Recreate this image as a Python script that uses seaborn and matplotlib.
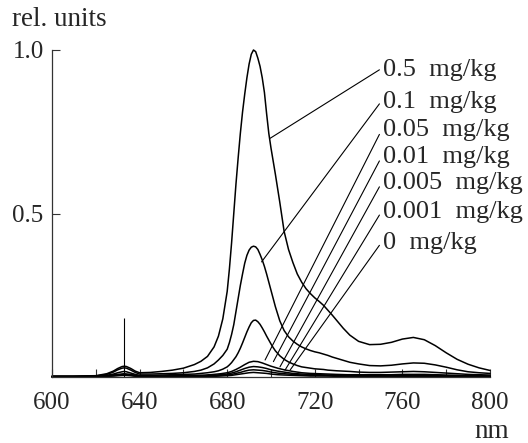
import matplotlib
matplotlib.use("Agg")
import matplotlib.pyplot as plt
import pandas as pd
import seaborn as sns

# wavelength grids (nm): dense one for the three strong spectra, coarse one for the weak ones
nm_main = [600, 610, 620, 625, 628, 630, 632, 633, 634, 636,
           638, 640, 645, 650, 655, 660, 665, 668, 671, 674,
           676, 678, 680, 681, 682, 683, 684, 685, 686, 687,
           688, 689, 690, 691, 692, 693, 694, 695, 696, 697,
           698, 699, 700, 701, 702, 704, 706, 708, 710, 712,
           714, 716, 718, 720, 722, 724, 726, 728, 730, 733,
           736, 740, 745, 750, 755, 760, 765, 770, 775, 780,
           785, 790, 795, 800]

nm_low = [600, 610, 620, 625, 630, 633, 636, 640, 650, 660,
          665, 670, 674, 677, 680, 682, 684, 686, 688, 690,
          692, 694, 696, 698, 700, 703, 706, 710, 714, 718,
          722, 726, 730, 735, 740, 745, 750, 755, 760, 765,
          770, 775, 780, 785, 790, 795, 800]

c_05 = [0.003, 0.003, 0.004, 0.010, 0.018, 0.026, 0.032, 0.033, 0.032, 0.026,
        0.018, 0.013, 0.014, 0.017, 0.021, 0.027, 0.038, 0.048, 0.063, 0.092,
        0.125, 0.178, 0.262, 0.330, 0.410, 0.500, 0.590, 0.670, 0.745, 0.810,
        0.865, 0.915, 0.957, 0.987, 1.000, 0.995, 0.975, 0.950, 0.915, 0.870,
        0.805, 0.745, 0.700, 0.660, 0.620, 0.535, 0.445, 0.390, 0.350, 0.315,
        0.290, 0.270, 0.255, 0.242, 0.231, 0.219, 0.204, 0.189, 0.173, 0.149,
        0.128, 0.109, 0.099, 0.100, 0.106, 0.116, 0.121, 0.114, 0.096, 0.074,
        0.054, 0.039, 0.028, 0.020]

c_01 = [0.002, 0.002, 0.003, 0.008, 0.015, 0.022, 0.027, 0.028, 0.027, 0.021,
        0.014, 0.009, 0.009, 0.010, 0.011, 0.013, 0.017, 0.021, 0.028, 0.040,
        0.052, 0.066, 0.085, 0.105, 0.130, 0.160, 0.200, 0.240, 0.280, 0.315,
        0.348, 0.372, 0.388, 0.397, 0.400, 0.398, 0.390, 0.375, 0.358, 0.338,
        0.315, 0.290, 0.265, 0.240, 0.215, 0.172, 0.142, 0.123, 0.110, 0.100,
        0.092, 0.086, 0.081, 0.077, 0.074, 0.070, 0.066, 0.061, 0.057, 0.051,
        0.045, 0.040, 0.035, 0.034, 0.036, 0.040, 0.043, 0.042, 0.037, 0.030,
        0.022, 0.016, 0.013, 0.011]

c_005 = [0.001, 0.001, 0.002, 0.005, 0.009, 0.013, 0.016, 0.017, 0.016, 0.012,
         0.008, 0.005, 0.005, 0.006, 0.007, 0.008, 0.009, 0.011, 0.013, 0.016,
         0.019, 0.024, 0.031, 0.037, 0.044, 0.053, 0.062, 0.074, 0.088, 0.104,
         0.121, 0.138, 0.153, 0.166, 0.173, 0.174, 0.169, 0.161, 0.150, 0.138,
         0.125, 0.113, 0.101, 0.090, 0.080, 0.065, 0.054, 0.046, 0.040, 0.035,
         0.031, 0.029, 0.027, 0.025, 0.024, 0.023, 0.021, 0.020, 0.019, 0.018,
         0.017, 0.015, 0.014, 0.014, 0.015, 0.016, 0.017, 0.016, 0.014, 0.012,
         0.010, 0.008, 0.007, 0.006]

c_001 = [0.001, 0.001, 0.002, 0.004, 0.008, 0.010, 0.008, 0.003, 0.003, 0.004,
         0.005, 0.006, 0.008, 0.010, 0.013, 0.017, 0.023, 0.030, 0.038, 0.045,
         0.048, 0.047, 0.043, 0.038, 0.033, 0.027, 0.022, 0.017, 0.013, 0.011,
         0.010, 0.009, 0.008, 0.007, 0.007, 0.007, 0.007, 0.007, 0.008, 0.008,
         0.008, 0.007, 0.006, 0.005, 0.004, 0.004, 0.003]

c_0005 = [0.001, 0.001, 0.001, 0.003, 0.006, 0.008, 0.006, 0.002, 0.002, 0.003,
          0.003, 0.004, 0.005, 0.007, 0.009, 0.012, 0.016, 0.021, 0.026, 0.030,
          0.032, 0.031, 0.029, 0.026, 0.022, 0.018, 0.015, 0.011, 0.009, 0.008,
          0.007, 0.006, 0.006, 0.005, 0.005, 0.005, 0.005, 0.005, 0.005, 0.006,
          0.005, 0.005, 0.004, 0.004, 0.003, 0.003, 0.002]

c_0001 = [0.000, 0.000, 0.001, 0.002, 0.005, 0.006, 0.005, 0.001, 0.001, 0.002,
          0.002, 0.003, 0.004, 0.005, 0.006, 0.008, 0.011, 0.014, 0.018, 0.021,
          0.022, 0.021, 0.020, 0.018, 0.015, 0.012, 0.010, 0.008, 0.006, 0.005,
          0.005, 0.004, 0.004, 0.004, 0.003, 0.003, 0.003, 0.003, 0.004, 0.004,
          0.004, 0.003, 0.003, 0.003, 0.002, 0.002, 0.002]

c_0 = [0.000, 0.000, 0.001, 0.002, 0.004, 0.005, 0.004, 0.001, 0.001, 0.001,
       0.001, 0.002, 0.002, 0.003, 0.004, 0.005, 0.007, 0.009, 0.011, 0.013,
       0.014, 0.013, 0.012, 0.011, 0.009, 0.007, 0.006, 0.005, 0.004, 0.003,
       0.003, 0.003, 0.002, 0.002, 0.002, 0.002, 0.002, 0.002, 0.002, 0.002,
       0.002, 0.002, 0.002, 0.001, 0.001, 0.001, 0.001]

conc_labels = ["0.5  mg/kg", "0.1  mg/kg", "0.05  mg/kg", "0.01  mg/kg",
               "0.005  mg/kg", "0.001  mg/kg", "0  mg/kg"]
spectra = [c_05, c_01, c_005, c_001, c_0005, c_0001, c_0]
grids = [nm_main, nm_main, nm_main, nm_low, nm_low, nm_low, nm_low]

# excitation line marker
laser_nm = 633
laser_top = 0.18

x_ticks = list(range(600, 801, 20))
x_tick_labels = ["600", "", "640", "", "680", "", "720", "", "760", "", "800"]
y_ticks = [0.5, 1.0]
y_tick_labels = ["0.5", "1.0"]

# where the leader lines touch the curves, and where the labels sit
pointer_nm = [699.6, 695.7, 697.3, 701.1, 704.1, 706.4, 708.7]
pointer_val = [0.73, 0.352, 0.052, 0.047, 0.031, 0.021, 0.021]
label_nm = 751
label_y = [0.939, 0.842, 0.755, 0.673, 0.593, 0.505, 0.41]

frames = []
for name, grid, vals in zip(conc_labels, grids, spectra):
    frames.append(pd.DataFrame({"nm": grid, "intensity": vals, "conc": name}))
df = pd.concat(frames, ignore_index=True)

sns.set_style("ticks")
plt.rcParams["font.family"] = ["Liberation Serif", "DejaVu Serif"]

fig = plt.figure(figsize=(5.28, 4.43), dpi=100)
ax = fig.add_axes([52 / 528, 66 / 443, 438 / 528, 327 / 443])

sns.lineplot(data=df, x="nm", y="intensity", hue="conc", hue_order=conc_labels,
             palette=["black"] * len(conc_labels), legend=False, errorbar=None,
             linewidth=1.1, clip_on=False, ax=ax)
ax.vlines(laser_nm, 0, laser_top, color="black", lw=0.8)

for name, tx, ty, ly in zip(conc_labels, pointer_nm, pointer_val, label_y):
    ax.annotate(name, xy=(tx, ty), xytext=(label_nm, ly), textcoords="data",
                ha="left", va="center", fontsize=19,
                arrowprops=dict(arrowstyle="-", lw=0.8, color="black",
                                shrinkA=0, shrinkB=0, relpos=(0, 0.6)))

ax.set_xlim(600, 800)
ax.set_ylim(0, 1.0)
ax.set_xticks(x_ticks)
ax.set_xticklabels(x_tick_labels)
ax.set_yticks(y_ticks)
ax.set_yticklabels(y_tick_labels)
ax.set_xlabel("")
ax.set_ylabel("")
ax.tick_params(direction="in", length=6, width=0.8, labelsize=18, color="#333333")
ax.tick_params(axis="x", pad=11)
ax.tick_params(axis="y", pad=6)
sns.despine(ax=ax)
for side in ["left", "bottom"]:
    ax.spines[side].set_linewidth(0.9)
    ax.spines[side].set_color("#333333")

fig.text(12 / 528, 1 - 26 / 443, "rel. units", ha="left", va="baseline", fontsize=19.5)
fig.text(509 / 528, 1 - 438 / 443, "nm", ha="right", va="baseline", fontsize=19.5)

fig.savefig("out.png", dpi=100)
